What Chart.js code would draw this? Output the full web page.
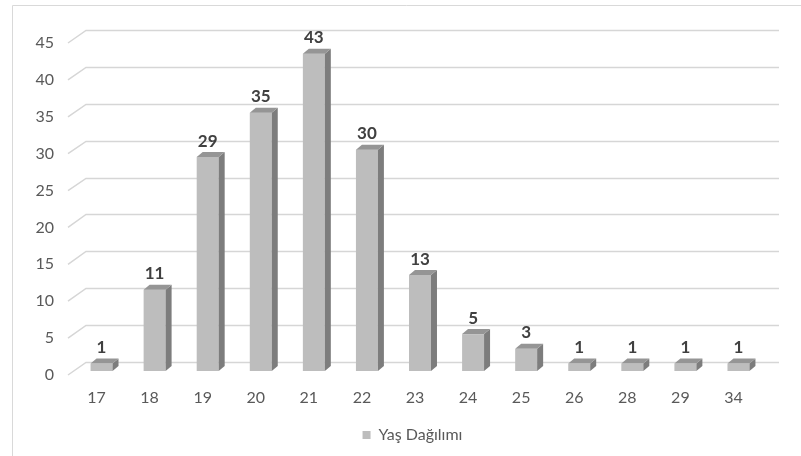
<!DOCTYPE html>
<html>
<head>
<meta charset="utf-8">
<script src="https://cdn.jsdelivr.net/npm/chart.js@4.4.1/dist/chart.umd.min.js"></script>
<style>
  html, body { margin: 0; padding: 0; background: #ffffff; }
  #wrap { position: relative; width: 801px; height: 456px; }
</style>
</head>
<body>
<div id="wrap"><canvas id="c" width="801" height="456"></canvas></div>
<script>
// Age distribution (Yaş Dağılımı)
const ages = ['17', '18', '19', '20', '21', '22', '23', '24', '25', '26', '28', '29', '34'];
const counts = [1, 11, 29, 35, 43, 30, 13, 5, 3, 1, 1, 1, 1];
const seriesName = 'Yaş Dağılımı';
const yTicks = [0, 5, 10, 15, 20, 25, 30, 35, 40, 45];

const FONT = 'Lato, "Liberation Sans", sans-serif';
const DEPTH_X = 6;      // 3D depth offset to the right
const DEPTH_Y = 5;      // 3D depth offset upwards
const WALL_SHIFT = 9;   // back wall sits above the front plane
const FLOOR_LEFT = 68;  // front end of the side-wall diagonals
const WALL_LEFT = 86;   // left edge of back wall
const WALL_RIGHT = 779; // right edge of back wall
const LEGEND_SHIFT = 24; // legend sits centred under the back wall

// Border of the chart frame plus the back wall gridlines with side diagonals
const wallPlugin = {
  id: 'wall',
  afterLayout(chart) {
    if (chart.legend) {
      chart.legend.left += LEGEND_SHIFT;
      chart.legend.right += LEGEND_SHIFT;
    }
  },
  beforeDatasetsDraw(chart) {
    const ctx = chart.ctx;
    const y = chart.scales.y;
    ctx.save();
    ctx.strokeStyle = '#d9d9d9';
    ctx.lineWidth = 1;
    ctx.beginPath();
    ctx.moveTo(12.5, 456);
    ctx.lineTo(12.5, 5.5);
    ctx.lineTo(801, 5.5);
    ctx.stroke();

    ctx.strokeStyle = '#d6d6d6';
    ctx.lineWidth = 1.5;
    yTicks.forEach(v => {
      const py = y.getPixelForValue(v);
      const back = Math.round(py - WALL_SHIFT) + 0.5;
      ctx.beginPath();
      ctx.moveTo(FLOOR_LEFT, py + 4);
      ctx.lineTo(WALL_LEFT, back);
      ctx.lineTo(WALL_RIGHT, back);
      ctx.stroke();
    });
    ctx.restore();
  }
};

// Side and top faces of each bar, plus value labels
const bar3dPlugin = {
  id: 'bar3d',
  afterDatasetsDraw(chart) {
    const ctx = chart.ctx;
    const meta = chart.getDatasetMeta(0);
    ctx.save();
    meta.data.forEach((bar, i) => {
      const p = bar.getProps(['x', 'y', 'base', 'width'], true);
      const left = p.x - p.width / 2;
      const right = p.x + p.width / 2;
      const top = p.y;
      const base = p.base;
      // side face
      ctx.fillStyle = '#7d7d7d';
      ctx.beginPath();
      ctx.moveTo(right, top);
      ctx.lineTo(right + DEPTH_X, top - DEPTH_Y);
      ctx.lineTo(right + DEPTH_X, base - DEPTH_Y);
      ctx.lineTo(right, base);
      ctx.closePath();
      ctx.fill();
      // top face
      ctx.fillStyle = '#959595';
      ctx.beginPath();
      ctx.moveTo(left, top);
      ctx.lineTo(left + DEPTH_X, top - DEPTH_Y);
      ctx.lineTo(right + DEPTH_X, top - DEPTH_Y);
      ctx.lineTo(right, top);
      ctx.closePath();
      ctx.fill();
      // value label
      ctx.fillStyle = '#404040';
      ctx.font = 'bold 17px ' + FONT;
      ctx.textAlign = 'center';
      ctx.textBaseline = 'middle';
      ctx.fillText(String(counts[i]), p.x, top - 16);
    });
    ctx.restore();
  }
};

new Chart(document.getElementById('c'), {
  type: 'bar',
  data: {
    labels: ages,
    datasets: [{
      label: seriesName,
      data: counts,
      backgroundColor: '#bdbdbd',
      borderWidth: 0,
      categoryPercentage: 1,
      barPercentage: 0.414
    }]
  },
  options: {
    responsive: false,
    animation: false,
    devicePixelRatio: 1,
    layout: { padding: { top: 39, right: 36, bottom: 3, left: 12 } },
    scales: {
      x: {
        grid: { display: false, drawTicks: false },
        border: { display: false },
        ticks: {
          color: '#595959',
          font: { family: FONT, size: 16 },
          padding: 17,
          labelOffset: -5,
          maxRotation: 0,
          autoSkip: false
        },
        afterFit(s) { s.height = 46; }
      },
      y: {
        min: 0,
        max: 45,
        grid: { display: false, drawTicks: false },
        border: { display: false },
        ticks: {
          stepSize: 5,
          color: '#595959',
          font: { family: FONT, size: 16 },
          padding: 21,
          labelOffset: 4
        },
        afterFit(s) { s.width = 63; }
      }
    },
    plugins: {
      legend: {
        position: 'bottom',
        labels: {
          boxWidth: 8,
          boxHeight: 8,
          padding: 10,
          color: '#595959',
          font: { family: FONT, size: 16 }
        }
      },
      tooltip: { enabled: false }
    }
  },
  plugins: [wallPlugin, bar3dPlugin]
});
</script>
</body>
</html>
